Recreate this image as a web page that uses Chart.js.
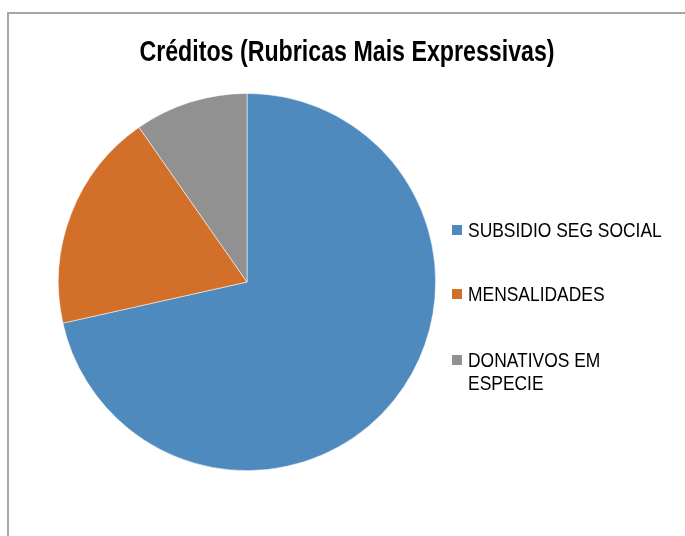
<!DOCTYPE html>
<html>
<head>
<meta charset="utf-8">
<script src="https://cdn.jsdelivr.net/npm/chart.js@4"></script>
<style>
  body { margin: 0; background: #fff; }
  #wrap { position: relative; width: 685px; height: 536px; overflow: hidden; }
  #frame { position: absolute; left: 7px; top: 12px; width: 700px; height: 560px; border: 2px solid #a6a6a6; box-sizing: border-box; }
  #myChart { position: absolute; left: 0; top: 0; }
  #title { position: absolute; left: 0; width: 694px; top: 37px; text-align: center; white-space: nowrap;
           font: bold 29px/29px "Liberation Sans", Arial, sans-serif; color: #000;
           transform: scaleX(0.8); transform-origin: 347px 0; }
  .leg { position: absolute; left: 468px; white-space: nowrap; font: 21px/23px "Liberation Sans", Arial, sans-serif; color: #000; }
  .leg .txt { display: inline-block; transform: scaleX(0.83); transform-origin: 0 0; }
  .leg span.box { position: absolute; left: -16px; top: 7px; width: 10px; height: 10px; }
</style>
</head>
<body>
<div id="wrap">
  <div id="frame"></div>
  <canvas id="myChart" width="685" height="536"></canvas>
  <div id="title">Créditos (Rubricas Mais Expressivas)</div>
  <div id="legend"></div>
</div>
<script>
// slices (share of total, %)
var rubricas = ['SUBSIDIO SEG SOCIAL', 'MENSALIDADES', 'DONATIVOS EM ESPECIE'];
var valores = [71.5, 18.8, 9.7];
var cores = ['rgb(79, 138, 190)', 'rgb(210, 112, 42)', 'rgb(145, 145, 145)'];

// legend text lines and where each row starts
var legendLines = [['SUBSIDIO SEG SOCIAL'], ['MENSALIDADES'], ['DONATIVOS EM', 'ESPECIE']];
var legendTop = [218, 282, 348];

const ctx = document.getElementById('myChart');

new Chart(ctx, {
  type: 'pie',
  data: {
    labels: rubricas,
    datasets: [{
      label: 'Créditos',
      data: valores,
      backgroundColor: cores,
      borderColor: 'rgba(255,255,255,0.7)',
      borderWidth: 0.75
    }]
  },
  options: {
    responsive: false,
    animation: false,
    layout: { padding: { left: 58, right: 249, top: 93, bottom: 65 } },
    plugins: {
      legend: { display: false },
      tooltip: { enabled: false }
    }
  }
});

// html legend, built from the same arrays
var legend = document.getElementById('legend');
rubricas.forEach(function(r, i) {
  var d = document.createElement('div');
  d.className = 'leg';
  d.style.top = legendTop[i] + 'px';
  d.innerHTML = '<span class="box" style="background:' + cores[i] + '"></span>' +
    '<span class="txt">' + legendLines[i].join('<br>') + '</span>';
  legend.appendChild(d);
});
</script>
</body>
</html>
